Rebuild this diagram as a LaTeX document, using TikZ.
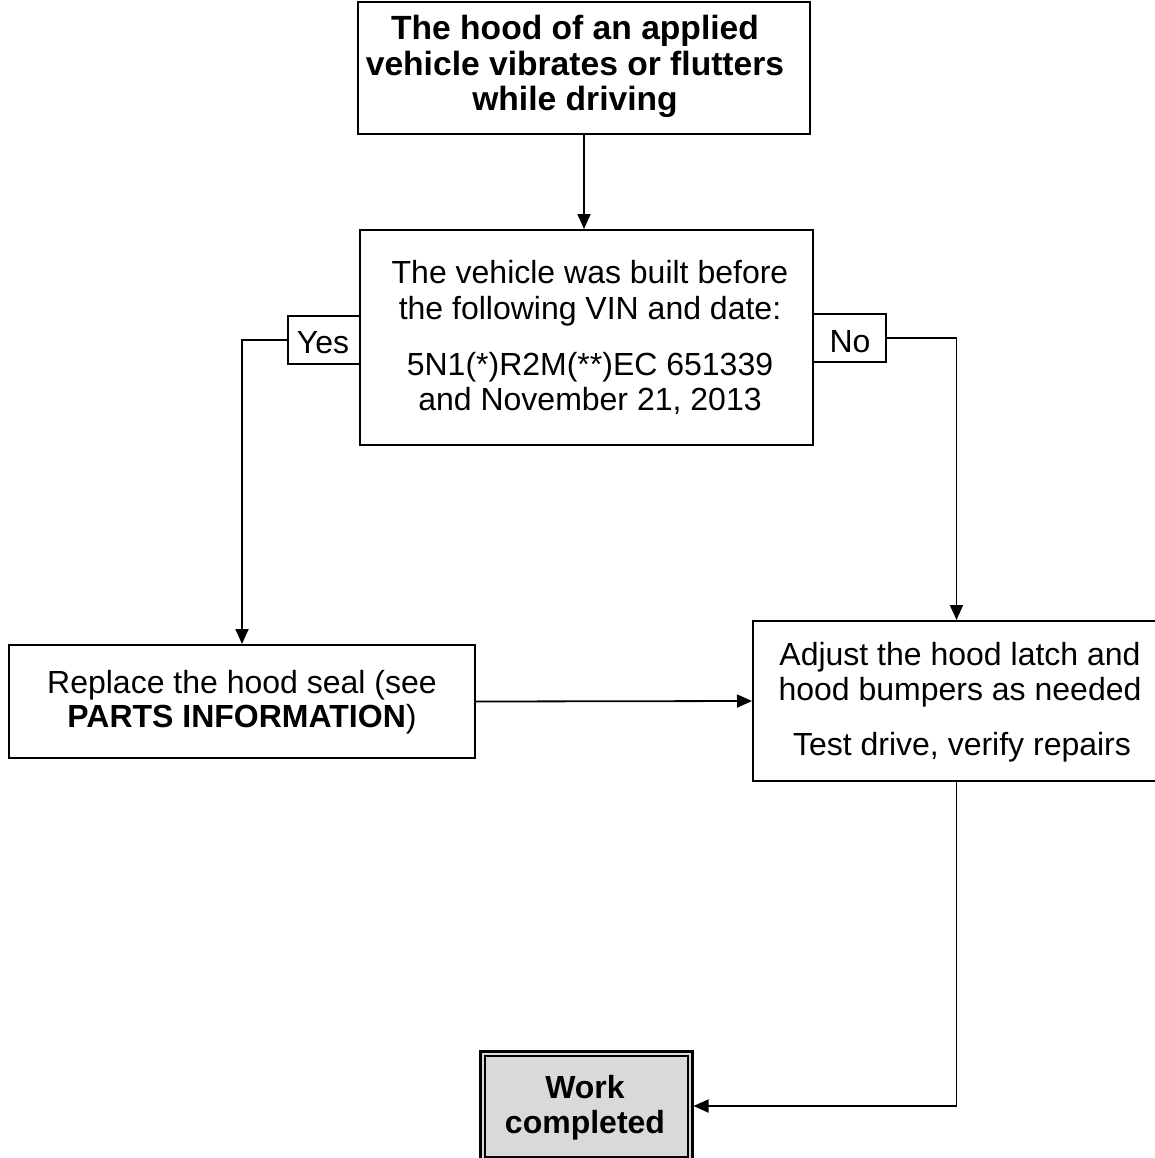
\documentclass[tikz,border=0pt]{standalone}
\usepackage{fontspec}
\setmainfont{Liberation Sans}
\usetikzlibrary{arrows.meta}
\tikzset{
  box/.style={draw=black, line width=1pt, rectangle, inner sep=0pt, fill=white},
  txt/.style={anchor=base, inner sep=0pt, font=\fontsize{16}{18}\selectfont},
  btxt/.style={anchor=base, inner sep=0pt, font=\fontsize{16}{18}\selectfont\bfseries},
  ttxt/.style={anchor=base, inner sep=0pt, font=\fontsize{16.8}{18}\selectfont\bfseries},
  arr/.style={draw=black, line width=0.9pt, -{Triangle[length=7.5pt,width=6.5pt]}},
  link/.style={draw=black, line width=0.9pt}
}
\begin{document}
\begin{tikzpicture}[x=0.5pt,y=-0.5pt]
\useasboundingbox (0,0) rectangle (1155,1158);
% boxes
\node[box, minimum width=226pt, minimum height=66pt] (top) at (584,68) {};
\node[box, minimum width=226.5pt, minimum height=107.5pt] (mid) at (586.5,337.5) {};
\node[box, minimum width=36pt, minimum height=24pt] (yes) at (324,340) {};
\node[box, minimum width=36.5pt, minimum height=24pt] (no) at (849.5,338) {};
\node[box, minimum width=233pt, minimum height=56.5pt] (left) at (242,701.5) {};
\node[box, minimum width=207.5pt, minimum height=80pt] (right) at (960.5,701) {};
\node[box, line width=1.5pt, fill={rgb,255:red,217;green,217;blue,217}, minimum width=106pt, minimum height=55pt] (work) at (586,1106) {};
\draw[line width=1pt] ([shift={(3pt,-3pt)}]work.north west) rectangle ([shift={(-3pt,3pt)}]work.south east);
% texts
\node[ttxt] (t1) at (575,39) {The hood of an applied};
\node[ttxt] (t2) at (575,75) {vehicle vibrates or flutters};
\node[ttxt] (t3) at (575,110) {while driving};
\node[txt] (m1) at (590,283) {The vehicle was built before};
\node[txt] (m2) at (590,319) {the following VIN and date:};
\node[txt] (m3) at (590,375) {5N1(*)R2M(**)EC 651339};
\node[txt] (m4) at (590,410) {and November 21, 2013};
\node[txt] (yt) at (323,353) {Yes};
\node[txt] (nt) at (850,352) {No};
\node[txt] (l1) at (242,693) {Replace the hood seal (see};
\node[txt] (l2) at (242,727) {\textbf{PARTS INFORMATION})};
\node[txt] (r1) at (960,665) {Adjust the hood latch and};
\node[txt] (r2) at (960,700) {hood bumpers as needed};
\node[txt] (r3) at (962,755) {Test drive, verify repairs};
\node[btxt] (w1) at (585,1098) {Work};
\node[btxt] (w2) at (585,1133) {completed};
% connectors
\draw[arr] (top.south) -- (top.south |- mid.north);
\draw[arr] (yes.west) -| (left.north);
\coordinate (rin) at ([xshift=-2pt]right.north);
\coordinate (rout) at ([xshift=-2pt]right.south);
\draw[arr] (no.east) -| (rin);
\draw[arr] (left.east) -- (right.west);
\draw[arr] (rout) |- (work.east);
\end{tikzpicture}
\end{document}
